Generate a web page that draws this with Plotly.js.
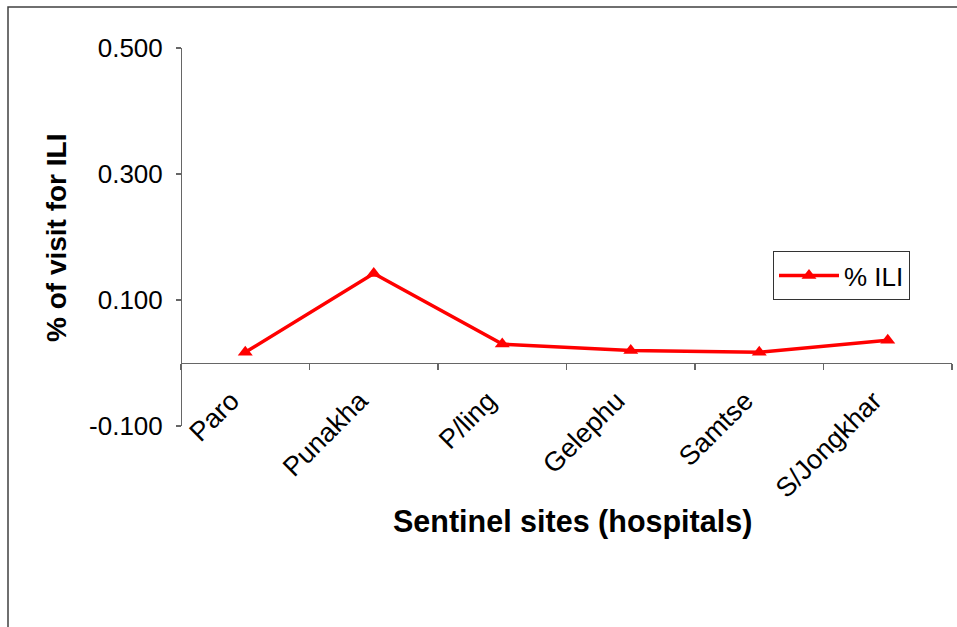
<!DOCTYPE html>
<html>
<head>
<meta charset="utf-8">
<script src="https://cdn.plot.ly/plotly-3.0.1.min.js"></script>
<style>
  html, body { margin: 0; padding: 0; background: #ffffff; }
  #chart { width: 957px; height: 627px; }
</style>
</head>
<body>
<div id="chart"></div>
<script>
// Data
const sites = ["Paro", "Punakha", "P/ling", "Gelephu", "Samtse", "S/Jongkhar"];
const pctILI = [0.017, 0.142, 0.030, 0.020, 0.017, 0.036];
const yTickVals = [-0.1, 0.1, 0.3, 0.5];
const yTickText = ["-0.100", "0.100", "0.300", "0.500"];
const seriesName = "% ILI";
const xTitle = "Sentinel sites (hospitals)";
const yTitle = "% of visit for ILI";

const FONT = "Arial, 'Liberation Sans', sans-serif";

const trace = {
  type: "scatter",
  mode: "lines+markers",
  x: sites,
  y: pctILI,
  name: seriesName,
  line: { color: "#ff0000", width: 3.5 },
  marker: { symbol: "triangle-up", size: 13, color: "#ff0000" },
  showlegend: true
};

const W = 957, H = 627;
const L = 181, R = 5, T = 48, B = 201;
const pw = W - L - R, ph = H - T - B;
const px = v => (v - L) / pw;
const py = v => (H - B - v) / ph;

const layout = {
  width: W,
  height: H,
  margin: { l: L, r: R, t: T, b: B },
  paper_bgcolor: "#ffffff",
  plot_bgcolor: "#ffffff",
  font: { family: FONT, color: "#000000", size: 24 },
  showlegend: true,
  legend: {
    x: px(773), y: py(251), xanchor: "left", yanchor: "top",
    bordercolor: "#333333", borderwidth: 1,
    bgcolor: "#ffffff",
    itemwidth: 60,
    font: { family: FONT, size: 26, color: "#000000" }
  },
  xaxis: {
    type: "category",
    range: [-0.5, 5.5],
    anchor: "free",
    position: (0 - (-0.1)) / (0.5 - (-0.1)),
    showline: true, linecolor: "#666666", linewidth: 1.3,
    ticks: "outside", tickson: "boundaries", ticklen: 6, tickcolor: "#666666", tickwidth: 1.3,
    tickangle: -45,
    ticklabelshift: -14,
    ticklabelstandoff: 10,
    tickfont: { family: FONT, size: 27, color: "#000000" },
    showgrid: false, zeroline: false, fixedrange: true
  },
  yaxis: {
    range: [-0.1, 0.5],
    anchor: "free", position: 0,
    tickvals: yTickVals, ticktext: yTickText,
    showline: true, linecolor: "#666666", linewidth: 1.3,
    ticks: "outside", ticklen: 5, tickcolor: "#666666", tickwidth: 1.3,
    ticklabelstandoff: 8,
    tickfont: { family: FONT, size: 26, color: "#000000" },
    showgrid: false, zeroline: false, fixedrange: true
  },
  annotations: [
    {
      text: "<b>" + xTitle + "</b>", xref: "paper", yref: "paper",
      x: px(572), y: py(521), xanchor: "center", yanchor: "middle",
      showarrow: false, font: { family: FONT, size: 30.5, color: "#000000" }
    },
    {
      text: "<b>" + yTitle + "</b>", xref: "paper", yref: "paper",
      x: px(56), y: py(238), xanchor: "center", yanchor: "middle",
      textangle: -90,
      showarrow: false, font: { family: FONT, size: 28, color: "#000000" }
    }
  ],
  shapes: [
    {
      type: "rect", xref: "paper", yref: "paper",
      x0: px(8), x1: px(962), y0: py(640), y1: py(7),
      line: { color: "#404040", width: 1.5 }, fillcolor: "rgba(0,0,0,0)", layer: "below"
    }
  ]
};

Plotly.newPlot("chart", [trace], layout, { displayModeBar: false, staticPlot: true });
</script>
</body>
</html>
